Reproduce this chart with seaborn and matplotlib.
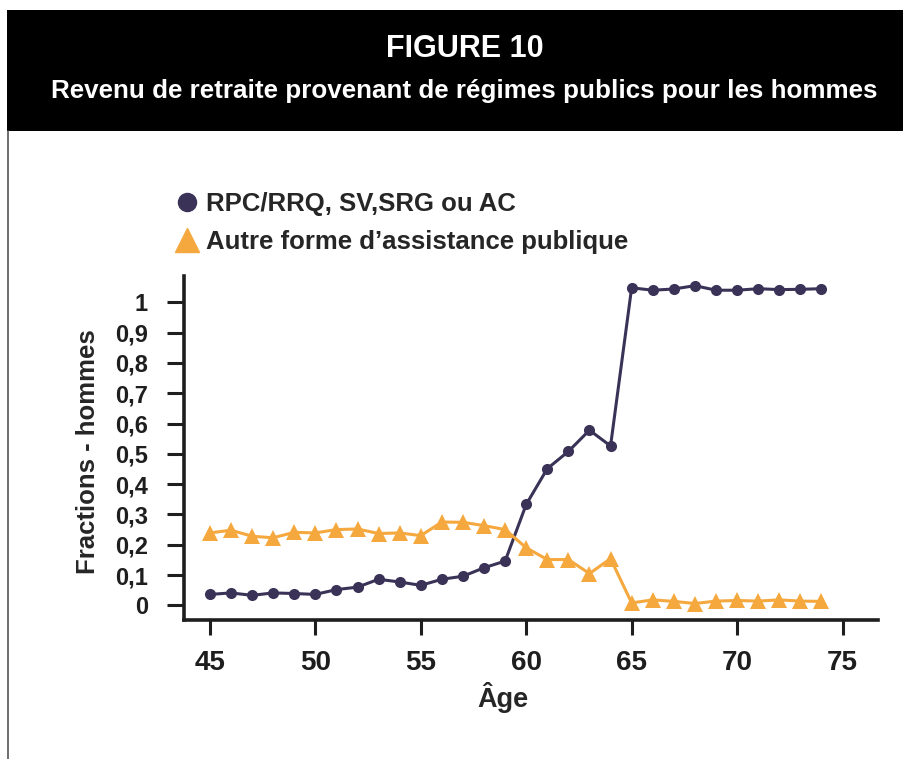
import matplotlib
matplotlib.use("Agg")
import matplotlib.pyplot as plt
import seaborn as sns
import pandas as pd
from matplotlib.lines import Line2D
from matplotlib.patches import Rectangle
from matplotlib.ticker import FuncFormatter

# Données
ages = list(range(45, 75))
rpc_srg = [0.036, 0.041, 0.033, 0.041, 0.039, 0.036, 0.052, 0.060, 0.086, 0.077,
           0.066, 0.086, 0.096, 0.124, 0.146, 0.333, 0.451, 0.508, 0.578, 0.526,
           1.048, 1.040, 1.044, 1.055, 1.040, 1.040, 1.045, 1.042, 1.043, 1.045]
autre_aide = [0.239, 0.248, 0.228, 0.223, 0.241, 0.239, 0.250, 0.252, 0.237, 0.239,
              0.230, 0.275, 0.274, 0.263, 0.250, 0.190, 0.151, 0.151, 0.105, 0.154,
              0.008, 0.018, 0.013, 0.006, 0.014, 0.016, 0.014, 0.018, 0.014, 0.013]
series_names = ["RPC/RRQ, SV,SRG ou AC", "Autre forme d\u2019assistance publique"]
x_ticks = [45, 50, 55, 60, 65, 70, 75]
y_ticks = [0, 0.1, 0.2, 0.3, 0.4, 0.5, 0.6, 0.7, 0.8, 0.9, 1.0]

NAVY = "#3a3357"
ORANGE = "#f5a83d"
INK = "#1e1e1e"

sns.set_style("white")
plt.rcParams["font.family"] = ["Liberation Sans", "DejaVu Sans"]
plt.rcParams["font.weight"] = "bold"

df = pd.DataFrame({
    "age": ages * 2,
    "fraction": rpc_srg + autre_aide,
    "serie": [series_names[0]] * len(ages) + [series_names[1]] * len(ages),
})

fig = plt.figure(figsize=(9.04, 7.59), dpi=100)
ax = fig.add_axes([0.2035, 0.1825, 0.7672, 0.4535])

sns.lineplot(data=df[df["serie"] == series_names[0]], x="age", y="fraction",
             color=NAVY, marker="o", markersize=8, markeredgewidth=0,
             linewidth=2.2, ax=ax, legend=False)
sns.lineplot(data=df[df["serie"] == series_names[1]], x="age", y="fraction",
             color=ORANGE, marker="^", markersize=11, markeredgewidth=0,
             linewidth=2.2, ax=ax, legend=False)

ax.set_xlim(43.77, 76.66)
ax.set_ylim(-0.05, 1.086)
ax.set_xticks(x_ticks)
ax.set_yticks(y_ticks)

def fmt_virgule(v, pos):
    if abs(v - round(v)) < 1e-9:
        return str(int(round(v)))
    return f"{v:.1f}".replace(".", ",")

ax.yaxis.set_major_formatter(FuncFormatter(fmt_virgule))
ax.tick_params(axis="y", left=True, direction="out", length=12, width=2.2, pad=14,
               labelsize=17, color=INK, labelcolor=INK)
ax.tick_params(axis="x", bottom=True, direction="out", length=11, width=2.2, pad=10,
               labelsize=20, color=INK, labelcolor=INK)
for lab in ax.get_xticklabels() + ax.get_yticklabels():
    lab.set_fontweight("bold")

for side in ["top", "right"]:
    ax.spines[side].set_visible(False)
for side in ["left", "bottom"]:
    ax.spines[side].set_linewidth(2.6)
    ax.spines[side].set_color(INK)

ax.set_xlabel("\u00c2ge", fontsize=19.5, fontweight="bold")
ax.xaxis.set_label_coords(0.46, -0.18)
ax.set_ylabel("Fractions - hommes", fontsize=18.5, fontweight="bold")
ax.yaxis.set_label_coords(-0.121, 0.49)

handles = [
    Line2D([], [], color=NAVY, marker="o", linestyle="none", markersize=13),
    Line2D([], [], color=ORANGE, marker="^", linestyle="none", markersize=17),
]
fig.legend(handles, series_names, loc="upper left",
           bbox_to_anchor=(174 / 904, 1 - 192 / 759), frameon=False,
           prop={"size": 18.5, "weight": "bold"}, handlelength=1.0,
           handletextpad=0.25, labelspacing=0.53, borderpad=0, borderaxespad=0)

# bandeau noir du titre
fig.add_artist(Rectangle((7 / 904, 1 - 131 / 759), 1 - 7 / 904, 121 / 759,
                         transform=fig.transFigure, facecolor="black",
                         edgecolor="none", zorder=0))
fig.add_artist(Line2D([7.5 / 904, 7.5 / 904], [0, 1 - 131 / 759],
                      transform=fig.transFigure, color="#555555", linewidth=1.2))
fig.text(465 / 904, 1 - 49 / 759, "FIGURE 10", color="white", fontsize=22,
         fontweight="bold", ha="center", va="center")
fig.text(464 / 904, 1 - 91 / 759,
         "Revenu de retraite provenant de r\u00e9gimes publics pour les hommes",
         color="white", fontsize=18.7, fontweight="bold", ha="center", va="center")

fig.savefig("out.png", dpi=100)
plt.close(fig)
